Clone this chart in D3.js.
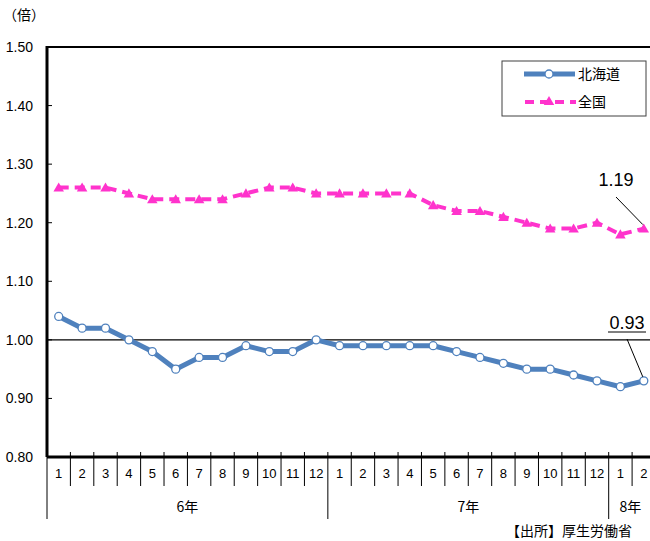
<!DOCTYPE html>
<html>
<head>
<meta charset="utf-8">
<script src="https://cdn.jsdelivr.net/npm/d3@7"></script>
<style>
body { margin: 0; background: #fff; }
svg text { font-family: "Liberation Sans", Arial, "Noto Sans CJK JP", sans-serif; }
.jp { font-family: "Noto Sans CJK JP", sans-serif; }
</style>
</head>
<body>
<div id="chart"></div>
<script>
// months of 6年 .. 8年 (26 points)
var months = ["1","2","3","4","5","6","7","8","9","10","11","12",
	"1","2","3","4","5","6","7","8","9","10","11","12","1","2"];
var years = [{label: "6年", n: 12}, {label: "7年", n: 12}, {label: "8年", n: 2}];
var hokkaido = [1.04,1.02,1.02,1.00,0.98,0.95,0.97,0.97,0.99,0.98,0.98,1.00,
	0.99,0.99,0.99,0.99,0.99,0.98,0.97,0.96,0.95,0.95,0.94,0.93,0.92,0.93];
var zenkoku = [1.26,1.26,1.26,1.25,1.24,1.24,1.24,1.24,1.25,1.26,1.26,1.25,
	1.25,1.25,1.25,1.25,1.23,1.22,1.22,1.21,1.20,1.19,1.19,1.20,1.18,1.19];
var yTicks = [0.80,0.90,1.00,1.10,1.20,1.30,1.40,1.50];

(function () {
	var width = 650, height = 541;
	var left = 47, top = 47, bottom = 457, right = 655.5;
	var blue = "#4F81BD", pink = "#FF33CC";

	var svg = d3.select("#chart").append("svg")
		.attr("width", width).attr("height", height);

	var x = d3.scaleBand().domain(d3.range(months.length)).range([left, right]);
	var y = d3.scaleLinear().domain([0.8, 1.5]).range([bottom, top]);
	var cx = function (d, i) { return x(i) + x.bandwidth() / 2; };

	// y axis labels and inner ticks
	svg.selectAll(".ylab").data(yTicks).enter().append("text")
		.attr("x", 33).attr("y", function (d) { return y(d) + 5; })
		.attr("text-anchor", "end").attr("font-size", 14).attr("fill", "#000")
		.text(function (d) { return d.toFixed(2); });
	svg.selectAll(".ytick").data(yTicks).enter().append("line")
		.attr("x1", left).attr("x2", left + 5)
		.attr("y1", function (d) { return y(d); }).attr("y2", function (d) { return y(d); })
		.attr("stroke", "#000").attr("stroke-width", 1);

	svg.append("text").attr("class", "jp").attr("x", 3).attr("y", 20)
		.attr("font-size", 14).text("（倍）");

	// reference line at 1.00
	svg.append("line").attr("x1", left).attr("x2", right)
		.attr("y1", y(1)).attr("y2", y(1)).attr("stroke", "#000").attr("stroke-width", 1.2);

	// frame: top, left, bottom
	svg.append("line").attr("x1", left).attr("x2", right).attr("y1", top).attr("y2", top)
		.attr("stroke", "#000").attr("stroke-width", 2);
	svg.append("line").attr("x1", left).attr("x2", left).attr("y1", top - 1).attr("y2", bottom)
		.attr("stroke", "#000").attr("stroke-width", 3);

	// category ticks
	var bounds = d3.range(months.length + 1).map(function (i) {
		return i < months.length ? x(i) : right;
	});
	svg.selectAll(".xtick").data(bounds).enter().append("line")
		.attr("x1", function (d) { return d; }).attr("x2", function (d) { return d; })
		.attr("y1", bottom - 5).attr("y2", 486)
		.attr("stroke", "#000").attr("stroke-width", 1);
	svg.selectAll(".xlab").data(months).enter().append("text")
		.attr("x", cx).attr("y", 478).attr("text-anchor", "middle")
		.attr("font-size", 13).text(function (d) { return d; });

	// year groups
	var acc = 0;
	years.forEach(function (yr) {
		var x0 = x(acc), x1 = acc + yr.n < months.length ? x(acc + yr.n) : right;
		svg.append("line").attr("x1", x0).attr("x2", x0).attr("y1", 486).attr("y2", 519)
			.attr("stroke", "#000").attr("stroke-width", 1);
		var cxy = yr.n > 2 ? (x0 + x1) / 2 : (x0 + Math.min(x1, width)) / 2 + 1;
		svg.append("text").attr("class", "jp").attr("x", cxy).attr("y", 512)
			.attr("text-anchor", "middle").attr("font-size", 14).text(yr.label);
		acc += yr.n;
	});

	svg.append("line").attr("x1", left).attr("x2", right).attr("y1", bottom).attr("y2", bottom)
		.attr("stroke", "#000").attr("stroke-width", 3);

	svg.append("text").attr("class", "jp").attr("x", 632).attr("y", 536)
		.attr("text-anchor", "end").attr("font-size", 14).text("【出所】厚生労働省");

	// lines
	var line = d3.line().x(cx).y(function (d) { return y(d); });
	svg.append("path").datum(zenkoku).attr("d", line).attr("fill", "none")
		.attr("stroke", pink).attr("stroke-width", 4).attr("stroke-dasharray", "10,6");
	var tri = d3.symbol().type(d3.symbolTriangle).size(48);
	svg.selectAll(".tri").data(zenkoku).enter().append("path")
		.attr("d", tri)
		.attr("transform", function (d, i) { return "translate(" + cx(d, i) + "," + (y(d) + 1) + ")"; })
		.attr("fill", pink);

	svg.append("path").datum(hokkaido).attr("d", line).attr("fill", "none")
		.attr("stroke", blue).attr("stroke-width", 5).attr("stroke-linejoin", "round");
	svg.selectAll(".dot").data(hokkaido).enter().append("circle")
		.attr("cx", cx).attr("cy", function (d) { return y(d); }).attr("r", 4)
		.attr("fill", "#fff").attr("stroke", blue).attr("stroke-width", 1.3);

	// annotations for last values
	var last = months.length - 1;
	var lx = cx(null, last);
	svg.append("text").attr("x", 616).attr("y", 186).attr("text-anchor", "middle")
		.attr("font-size", 18).text(zenkoku[last].toFixed(2));
	svg.append("line").attr("x1", 616).attr("y1", 197).attr("x2", lx - 1).attr("y2", y(zenkoku[last]) - 4)
		.attr("stroke", "#000").attr("stroke-width", 1);

	svg.append("text").attr("x", 627).attr("y", 329).attr("text-anchor", "middle")
		.attr("font-size", 18).text(hokkaido[last].toFixed(2));
	svg.append("line").attr("x1", 608).attr("x2", 646).attr("y1", 332).attr("y2", 332)
		.attr("stroke", "#000").attr("stroke-width", 1);
	svg.append("line").attr("x1", 627).attr("y1", 339).attr("x2", lx - 1).attr("y2", y(hokkaido[last]) - 4)
		.attr("stroke", "#000").attr("stroke-width", 1);

	// legend
	var lg = svg.append("g");
	lg.append("rect").attr("x", 502).attr("y", 61).attr("width", 144).attr("height", 55)
		.attr("fill", "#fff").attr("stroke", "#404040").attr("stroke-width", 1);
	lg.append("line").attr("x1", 524).attr("x2", 575).attr("y1", 74).attr("y2", 74)
		.attr("stroke", blue).attr("stroke-width", 5);
	lg.append("circle").attr("cx", 549).attr("cy", 74).attr("r", 4)
		.attr("fill", "#fff").attr("stroke", blue).attr("stroke-width", 1.3);
	lg.append("text").attr("class", "jp").attr("x", 578).attr("y", 79)
		.attr("font-size", 14).text("北海道");
	lg.append("line").attr("x1", 525).attr("x2", 576).attr("y1", 102).attr("y2", 102)
		.attr("stroke", pink).attr("stroke-width", 4).attr("stroke-dasharray", "9,6");
	lg.append("path").attr("d", tri).attr("transform", "translate(549,102)").attr("fill", pink);
	lg.append("text").attr("class", "jp").attr("x", 578).attr("y", 107)
		.attr("font-size", 14).text("全国");
})();
</script>
</body>
</html>
